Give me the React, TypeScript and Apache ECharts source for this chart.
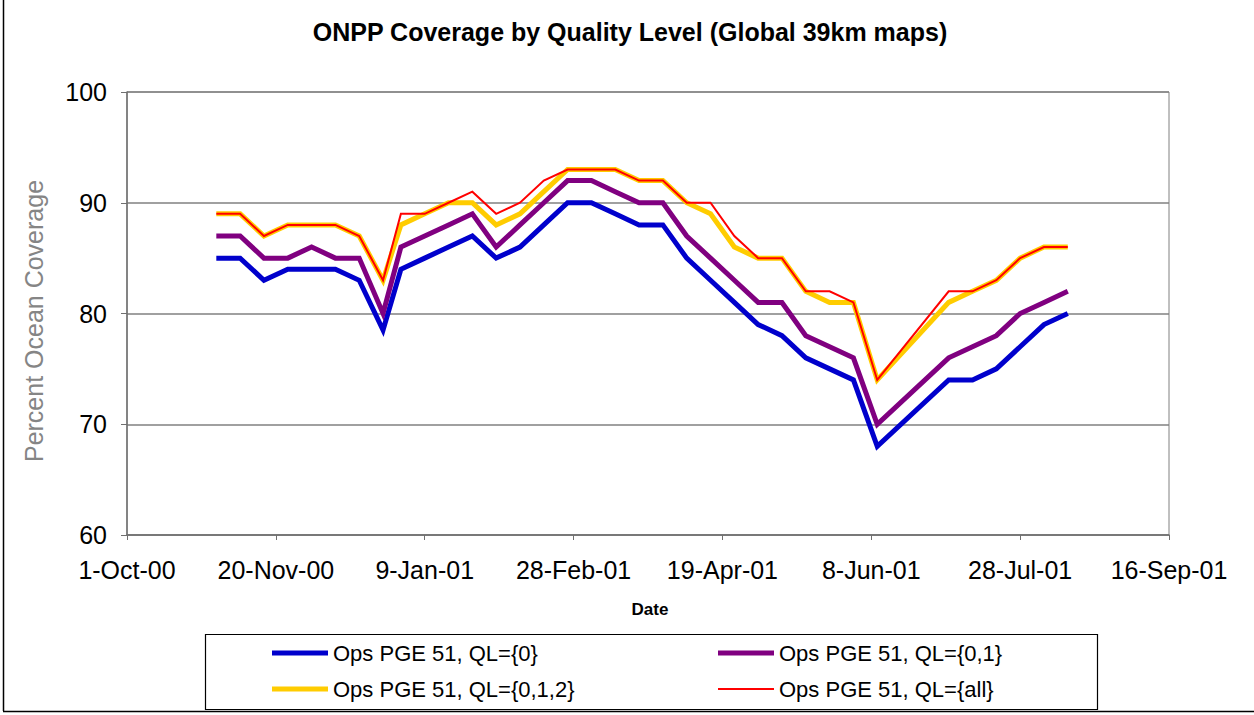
import React, { useEffect, useRef } from "react";
import * as echarts from "echarts";

const dates = [
  "2000-10-31", "2000-11-08", "2000-11-16", "2000-11-24", "2000-12-02", "2000-12-10", "2000-12-18", "2000-12-26",
  "2001-01-01", "2001-01-09", "2001-01-17", "2001-01-25", "2001-02-02",
  "2001-02-10", "2001-02-18", "2001-02-26", "2001-03-06", "2001-03-14", "2001-03-22", "2001-03-30",
  "2001-04-07", "2001-04-15", "2001-04-23", "2001-05-01", "2001-05-09", "2001-05-17", "2001-05-25",
  "2001-06-02", "2001-06-10", "2001-06-18", "2001-06-26", "2001-07-04", "2001-07-12", "2001-07-20",
  "2001-07-28", "2001-08-05", "2001-08-13",
];

const ql0 = [85, 85, 83, 84, 84, 84, 83, 78.5, 84, 85, 86, 87, 85, 86, 88, 90, 90, 89, 88, 88, 85, 83, 81, 79, 78, 76, 75, 74, 68, null, null, 74, 74, 75, 77, 79, 80];
const ql01 = [87, 87, 85, 85, 86, 85, 85, 80, 86, 87, 88, 89, 86, 88, 90, 92, 92, 91, 90, 90, 87, 85, 83, 81, 81, 78, 77, 76, 70, null, null, 76, 77, 78, 80, 81, 82];
const ql012 = [89, 89, 87, 88, 88, 88, 87, 83, 88, 89, 90, 90, 88, 89, 91, 93, 93, 93, 92, 92, 90, 89, 86, 85, 85, 82, 81, 81, 74, null, null, 81, 82, 83, 85, 86, 86];
const qlAll = [89, 89, 87, 88, 88, 88, 87, 83, 89, 89, 90, 91, 89, 90, 92, 93, 93, 93, 92, 92, 90, 90, 87, 85, 85, 82, 82, 81, 74, null, null, 82, 82, 83, 85, 86, 86];

const seriesNames = ["Ops PGE 51, QL={0}", "Ops PGE 51, QL={0,1}", "Ops PGE 51, QL={0,1,2}", "Ops PGE 51, QL={all}"];
const yTicks = [60, 70, 80, 90, 100];

const MONTHS = ["Jan", "Feb", "Mar", "Apr", "May", "Jun", "Jul", "Aug", "Sep", "Oct", "Nov", "Dec"];
const ORIGIN = Date.UTC(2000, 9, 1);
const DAY = 86400000;

function dayOffset(s: string): number {
  const [y, m, d] = s.split("-").map(Number);
  return Math.round((Date.UTC(y, m - 1, d) - ORIGIN) / DAY);
}
function fmtDay(v: number): string {
  const dt = new Date(ORIGIN + v * DAY);
  return `${dt.getUTCDate()}-${MONTHS[dt.getUTCMonth()]}-${String(dt.getUTCFullYear() % 100).padStart(2, "0")}`;
}

const FONT = "'Liberation Sans', Arial, Helvetica, sans-serif";

export default function App() {
  const ref = useRef<HTMLDivElement>(null);
  useEffect(() => {
    if (!ref.current) return;
    const chart = echarts.init(ref.current, undefined, { renderer: "svg" });
    const xs = dates.map(dayOffset);
    const mk = (vals: (number | null)[]) => vals.map((v, i) => [xs[i], v]);
    const colors = ["#0000CC", "#800080", "#FFCC00", "#FF0000"];
    const widths = [5, 5, 5, 2];
    const allData = [ql0, ql01, ql012, qlAll];

    const legendPos = [
      { left: 272, top: 642 },
      { left: 718, top: 642 },
      { left: 272, top: 678 },
      { left: 718, top: 678 },
    ];

    chart.setOption({
      animation: false,
      backgroundColor: "#ffffff",
      grid: { left: 127, top: 92, width: 1042, height: 443, show: true, borderColor: "#808080", borderWidth: 1, containLabel: false },
      xAxis: {
        type: "value",
        min: 0,
        max: 350,
        interval: 50,
        axisLine: { show: true, lineStyle: { color: "#707070", width: 1.5 } },
        axisTick: { show: true, length: 5, lineStyle: { color: "#707070" } },
        splitLine: { show: false },
        axisLabel: { formatter: (v: number) => fmtDay(v), fontSize: 25, color: "#000", fontFamily: FONT, margin: 22 },
      },
      yAxis: {
        type: "value",
        min: yTicks[0],
        max: yTicks[yTicks.length - 1],
        interval: 10,
        axisLine: { show: true, lineStyle: { color: "#707070", width: 1.5 } },
        axisTick: { show: true, length: 6, lineStyle: { color: "#707070" } },
        splitLine: { show: true, lineStyle: { color: "#808080", width: 1.5 } },
        axisLabel: { fontSize: 25, color: "#000", fontFamily: FONT, margin: 20 },
      },
      legend: seriesNames.map((n, i) => ({
        data: [{ name: n, icon: "rect", itemStyle: { color: colors[i], borderWidth: 0 } }],
        left: legendPos[i].left,
        top: legendPos[i].top,
        padding: 0,
        itemWidth: 56,
        itemHeight: widths[i],
        selectedMode: false,
        textStyle: { fontSize: 22, color: "#000", fontFamily: FONT, lineHeight: 22 },
      })),
      series: seriesNames.map((n, i) => ({
        name: n,
        type: "line",
        data: mk(allData[i]),
        symbol: "none",
        showSymbol: false,
        connectNulls: true,
        color: colors[i],
        lineStyle: { color: colors[i], width: widths[i], join: "miter" },
        z: 2 + i,
      })),
      graphic: [
        { type: "line", shape: { x1: 3.5, y1: 0, x2: 3.5, y2: 711 }, style: { stroke: "#000", lineWidth: 1.5 } },
        { type: "line", shape: { x1: 3, y1: 711.5, x2: 1254, y2: 711.5 }, style: { stroke: "#000", lineWidth: 1.5 } },
        { type: "rect", shape: { x: 205.5, y: 634.5, width: 892, height: 75 }, style: { fill: "none", stroke: "#000", lineWidth: 1.2 } },
        {
          type: "text", x: 630, y: 32,
          style: { text: "ONPP Coverage by Quality Level (Global 39km maps)", fontSize: 25, fontWeight: "bold", fontFamily: FONT, fill: "#000", textAlign: "center", textVerticalAlign: "middle" },
        },
        {
          type: "text", x: 650, y: 609,
          style: { text: "Date", fontSize: 17, fontWeight: "bold", fontFamily: FONT, fill: "#000", textAlign: "center", textVerticalAlign: "middle" },
        },
        {
          type: "text", x: 34, y: 321, rotation: Math.PI / 2,
          style: { text: "Percent Ocean Coverage", fontSize: 25, fontFamily: FONT, fill: "#858585", textAlign: "center", textVerticalAlign: "middle" },
        },
      ],
    });
    return () => chart.dispose();
  }, []);
  return <div ref={ref} style={{ position: "fixed", left: 0, top: 0, width: 1254, height: 715 }} />;
}
